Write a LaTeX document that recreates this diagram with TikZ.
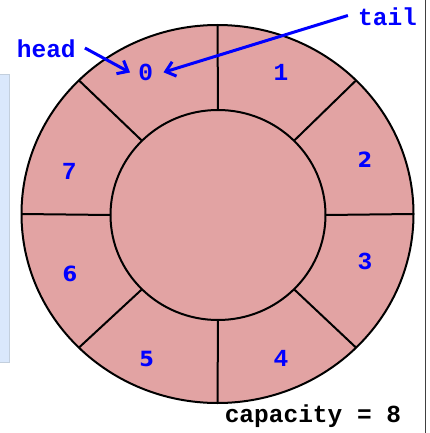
\documentclass[tikz,border=0pt]{standalone}
\usepackage{fontspec}
\setmonofont{Liberation Mono}
\newfontfamily\digsans{DejaVu Sans}
\usetikzlibrary{arrows.meta,calc}
\definecolor{ringfill}{HTML}{E2A3A3}
\definecolor{panelfill}{HTML}{DAE8FC}
\definecolor{panelline}{HTML}{C3CFDD}
\definecolor{txtblue}{HTML}{0000FF}
\tikzset{
  ring/.style={draw=black, line width=2pt, fill=ringfill},
  divider/.style={draw=black, line width=2pt},
  idx/.style={text=txtblue, font=\fontsize{24.5}{26}\selectfont\ttfamily\bfseries, inner sep=0pt},
  idxs/.style={text=txtblue, font=\fontsize{21}{24}\selectfont\digsans\bfseries, inner sep=0pt},
  ptr/.style={text=txtblue, font=\fontsize{24.5}{26}\selectfont\ttfamily\bfseries, inner sep=0pt},
  ptrarrow/.style={draw=txtblue, line width=3pt, -{Straight Barb[length=9pt,width=15pt,line width=3pt]}},
  caplabel/.style={text=black, font=\fontsize{24.5}{26}\selectfont\ttfamily\bfseries, inner sep=0pt}
}
\begin{document}
\begin{tikzpicture}[x=1pt,y=-1pt]
\useasboundingbox (0,0) rectangle (430,433);
% side panel
\draw[fill=panelfill, draw=panelline, line width=1pt] (-2,75) rectangle (9,362);
% right border line
\draw[draw=black!75, line width=1pt] (425.7,0) -- (425.7,433);
% ring
\coordinate (C1) at (217.5,214);
\coordinate (C2) at (218,215);
\path[ring] (C1) ellipse [x radius=196pt, y radius=189pt];
\path[ring] (C2) ellipse [x radius=107.5pt, y radius=105pt];
\foreach \a in {0,45,...,315}{
  \draw[divider] ($(C2)+(\a:107.5pt and 105pt)$) -- ($(C1)+(\a:196pt and 189pt)$);
}
% slot labels
\node[idx]  (s0) at (145.7,72.5) {0};
\node[idx]  (s1) at (281,72.7) {1};
\node[idxs] (s2) at (365,160) {2};
\node[idx]  (s3) at (365,261.3) {3};
\node[idx]  (s4) at (281,358.7) {4};
\node[idxs] (s5) at (146.7,358.7) {5};
\node[idxs] (s6) at (70,274) {6};
\node[idx]  (s7) at (69.3,171.7) {7};
% pointers
\node[ptr] (head) at (46.3,49) {head};
\node[ptr] (tail) at (387.5,16.5) {tail};
\coordinate (headend) at (130,72.5);
\coordinate (tailend) at (163.5,72.3);
\draw[ptrarrow] ($(head.east)+(9,-1)$) -- (headend);
\draw[ptrarrow] ($(tail.west)+(-10,-1)$) -- (tailend);
% capacity
\node[caplabel] (cap) at (313,415.7) {capacity = 8};
\end{tikzpicture}
\end{document}
